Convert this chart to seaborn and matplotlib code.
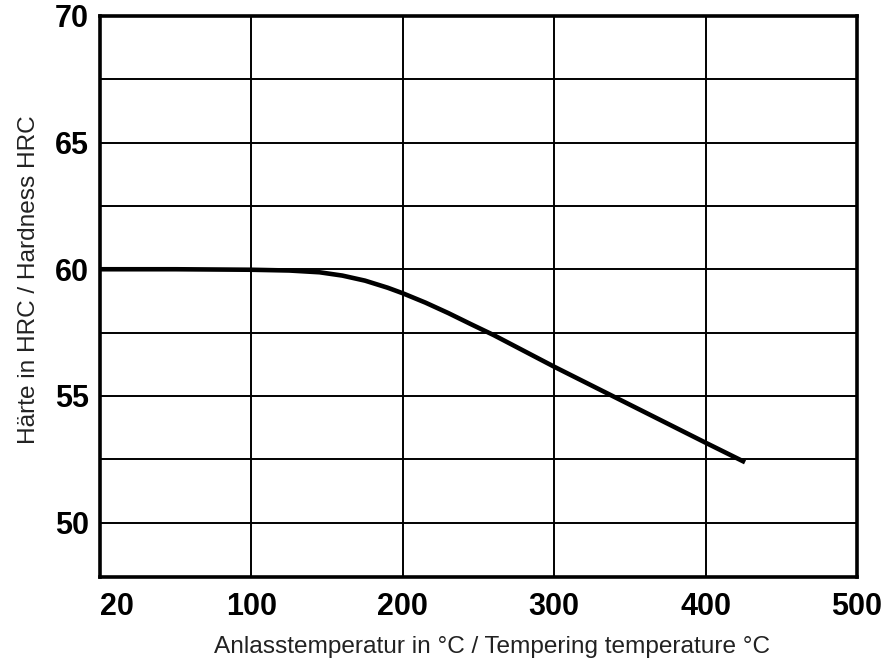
import matplotlib
matplotlib.use("Agg")
import matplotlib.pyplot as plt
import seaborn as sns
import pandas as pd

# Data
temperature = [0, 50, 100, 125, 145, 160, 175, 190, 200, 215, 230, 245, 260, 300, 350, 400, 426]
hardness = [60.0, 60.0, 59.98, 59.95, 59.88, 59.75, 59.55, 59.27, 59.05, 58.68, 58.27, 57.83,
            57.4, 56.15, 54.65, 53.15, 52.38]
x_ticks = [0, 100, 200, 300, 400, 500]
x_tick_labels = ["20", "100", "200", "300", "400", "500"]
y_ticks = [50, 55, 60, 65, 70]
y_tick_labels = ["50", "55", "60", "65", "70"]
y_grid = [47.5, 50, 52.5, 55, 57.5, 60, 62.5, 65, 67.5, 70]

df = pd.DataFrame({"temp": temperature, "hrc": hardness})

sns.set_theme(style="white")
plt.rcParams["font.family"] = ["Liberation Sans", "DejaVu Sans"]

fig = plt.figure(figsize=(8.9, 6.6), dpi=100)
ax = fig.add_axes([0.1124, 0.1258, 0.8506, 0.8500])

for yv in y_grid:
    ax.axhline(yv, color="black", lw=1.4, zorder=1)
for xv in x_ticks:
    ax.axvline(xv, color="black", lw=1.4, zorder=1)

sns.lineplot(data=df, x="temp", y="hrc", ax=ax, color="black", lw=3.3,
             solid_capstyle="butt", solid_joinstyle="round", zorder=3)

ax.set_xlim(0, 500)
ax.set_ylim(47.85, 70)
ax.set_xticks(x_ticks)
ax.set_xticklabels(x_tick_labels, fontsize=22, fontweight="bold")
ax.set_yticks(y_ticks)
ax.set_yticklabels(y_tick_labels, fontsize=22, fontweight="bold")
ax.tick_params(axis="both", length=0, colors="black")
ax.tick_params(axis="x", pad=11)
ax.tick_params(axis="y", pad=8)
lbls = ax.get_xticklabels()
lbls[0].set_horizontalalignment("left")

ax.set_xlabel("Anlasstemperatur in °C / Tempering temperature °C",
              fontsize=17.6, color="#222222")
ax.set_ylabel("Härte in HRC / Hardness HRC", fontsize=17.6, color="#222222")
ax.xaxis.set_label_coords(0.518, -0.105)
ax.yaxis.set_label_coords(-0.079, 0.53)

for s in ax.spines.values():
    s.set_visible(True)
    s.set_color("black")
    s.set_linewidth(2.6)
    s.set_zorder(4)

ax.set_facecolor("white")
fig.savefig("out.png", dpi=100, facecolor="white")
